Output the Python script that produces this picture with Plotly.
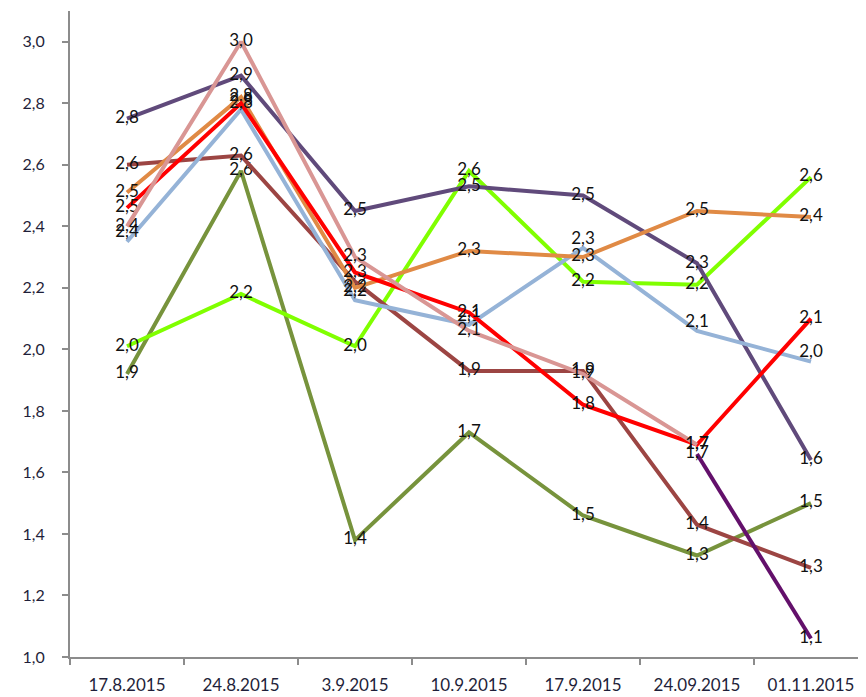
import plotly.graph_objects as go

dates = ["17.8.2015", "24.8.2015", "3.9.2015", "10.9.2015", "17.9.2015", "24.09.2015", "01.11.2015"]

olive = [1.92, 2.58, 1.38, 1.73, 1.46, 1.33, 1.50]
lime = [2.01, 2.18, 2.01, 2.58, 2.22, 2.21, 2.56]
brown = [2.60, 2.63, 2.22, 1.93, 1.93, 1.43, 1.29]
purple = [2.75, 2.89, 2.45, 2.53, 2.50, 2.28, 1.64]
blue = [2.35, 2.78, 2.16, 2.08, 2.33, 2.06, 1.96]
orange = [2.51, 2.82, 2.20, 2.32, 2.30, 2.45, 2.43]
red = [2.46, 2.80, 2.25, 2.12, 1.82, 1.69, 2.10]
pink = [2.40, 3.00, 2.30, 2.06, 1.92, 1.69, None]
darkpurple = [None, None, None, None, None, 1.66, 1.06]

series = [
    ("olive", olive, "#77933C", "middle center"),
    ("lime", lime, "#80FF00", "middle center"),
    ("brown", brown, "#9C4543", "middle center"),
    ("purple", purple, "#604A7B", "middle center"),
    ("blue", blue, "#95B3D7", "top center"),
    ("orange", orange, "#E08A45", "middle center"),
    ("red", red, "#FF0000", "middle center"),
    ("pink", pink, "#D99694", "middle center"),
    ("darkpurple", darkpurple, "#63106B", "middle center"),
]

fig = go.Figure()
for name, vals, color, pos in series:
    fig.add_trace(go.Scatter(
        x=dates, y=vals, name=name, mode="lines+text",
        line=dict(color=color, width=4),
        texttemplate="%{y:.1f}", textposition=pos,
        textfont=dict(family="Lato", size=17, color="#111111"),
        connectgaps=False, cliponaxis=False,
    ))

fig.update_layout(
    width=866, height=697,
    margin=dict(l=62, r=6, t=3, b=48),
    paper_bgcolor="white", plot_bgcolor="white",
    showlegend=False,
    separators=",.",
    font=dict(family="Lato", size=15, color="#1F1F3A"),
)
fig.update_xaxes(
    type="category", range=[-0.5, 6.5],
    showline=True, linecolor="#8C8C8C", linewidth=2,
    ticks="outside", tickson="boundaries", ticklen=6, tickcolor="#8C8C8C", tickwidth=2,
    showgrid=False, zeroline=False,
    ticklabelstandoff=12,
    tickfont=dict(family="Lato", size=17, color="#1F1F3A"),
)
fig.update_yaxes(
    range=[1.0, 3.1], dtick=0.2, tick0=1.0, tickformat=".1f",
    showline=True, linecolor="#8C8C8C", linewidth=2,
    ticks="outside", ticklen=6, tickcolor="#8C8C8C", tickwidth=2,
    showgrid=False, zeroline=False,
    ticklabelstandoff=14,
    tickfont=dict(family="Lato", size=16, color="#1F1F3A"),
)

fig.write_html("out.html")
